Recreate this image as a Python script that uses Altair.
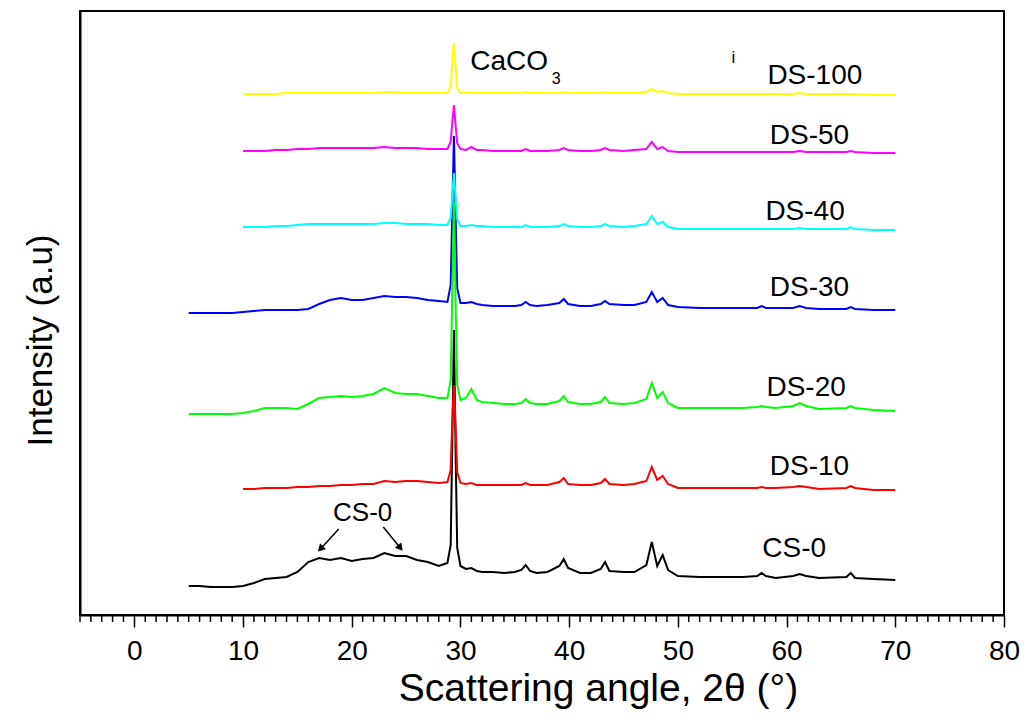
import altair as alt
import pandas as pd

FONT = "Liberation Sans"

# common 2-theta grid (degrees)
angle = [5, 6, 7, 8, 9, 10, 11, 12, 13, 14, 15, 16, 17, 18, 19, 20, 21, 22, 23, 24, 25, 26, 27, 28,
         28.8, 29.1, 29.25, 29.4, 29.55, 29.7, 30.0,
         30.5, 31.0, 31.5, 32, 33, 34, 35,
         35.6, 36.0, 36.4, 37, 38,
         39.1, 39.5, 39.9, 41, 42,
         42.9, 43.3, 43.7, 45, 46,
         47.1, 47.6, 48.1, 48.6, 49.1, 50,
         52, 54, 56,
         57.3, 57.7, 58.1, 59,
         60.6, 61.2, 61.8, 63,
         65.5, 65.9, 66.3, 68, 70]

# intensities (a.u., stacked offsets as drawn)
cs0 = [29, 29, 28, 28, 28, 29, 32, 36, 37, 38, 43, 53, 57, 55, 57, 54, 56, 57, 62, 59, 59, 55, 53, 49,
       52, 70, 175, 285, 165, 67, 49,
       46, 47, 44, 43, 43, 42, 43,
       45, 50, 44, 42, 43,
       49, 56, 47, 42, 42,
       46, 53, 44, 43, 43,
       50, 73, 49, 60, 45, 39,
       38, 38, 38,
       39, 42, 39, 37,
       39, 41, 39, 37,
       38, 42, 37, 36, 35]

ds10 = [126, 126, 127, 127, 127, 128, 128, 129, 129, 130, 130, 131, 131, 134, 133, 134, 134, 133, 132,
        133, 145, 195, 230, 190, 143, 132,
        131, 132, 130, 130, 130, 130, 130,
        130, 132, 130, 130, 130,
        133, 137, 131, 130, 130,
        132, 136, 131, 130, 131,
        134, 148, 135, 139, 131, 127,
        127, 127, 127,
        127, 128, 127, 127,
        128, 129, 128, 126,
        127, 129, 127, 125, 125]

ds20 = [201, 201, 201, 201, 201, 202, 204, 207, 207, 207, 206, 211, 217, 218, 219, 218, 219, 221, 227, 222, 221, 221, 219, 217,
        217, 235, 325, 413, 315, 230, 215,
        217, 226, 215, 213, 212, 211, 211,
        212, 216, 212, 211, 211,
        214, 219, 213, 211, 211,
        213, 218, 212, 211, 212,
        216, 232, 217, 223, 212, 207,
        207, 207, 207,
        208, 209, 208, 207,
        209, 212, 209, 206,
        207, 209, 207, 205, 204]

ds30 = [302, 302, 302, 302, 302, 303, 304, 305, 305, 305, 305, 306, 311, 315, 317, 315, 315, 317, 319, 318, 318, 317, 315, 314,
        313, 330, 405, 479, 400, 327, 312,
        312, 313, 311, 310, 309, 309, 309,
        310, 313, 310, 309, 310,
        312, 316, 311, 309, 309,
        311, 314, 311, 310, 310,
        313, 323, 313, 317, 310, 308,
        307, 307, 307,
        307, 309, 307, 307,
        307, 309, 307, 306,
        306, 308, 306, 305, 305]

ds40 = [388, 388, 388, 389, 389, 390, 391, 391, 391, 391, 391, 391, 391, 392, 392, 391, 391, 391, 390,
        390, 397, 420, 442, 417, 396, 389,
        389, 390, 389, 389, 388, 388, 388,
        388, 390, 388, 388, 388,
        389, 391, 389, 388, 388,
        389, 391, 389, 388, 389,
        391, 399, 391, 393, 388, 386,
        386, 386, 386,
        386, 386, 386, 386,
        386, 387, 386, 386,
        386, 388, 386, 385, 385]

ds50 = [464, 464, 464, 465, 465, 466, 466, 467, 467, 467, 467, 467, 467, 468, 467, 467, 467, 466, 466,
        466, 473, 493, 510, 490, 472, 466,
        465, 468, 465, 465, 464, 464, 464,
        464, 466, 464, 464, 464,
        465, 467, 465, 464, 464,
        465, 467, 465, 464, 465,
        466, 473, 466, 468, 464, 463,
        463, 463, 463,
        463, 463, 463, 463,
        463, 464, 463, 463,
        463, 464, 463, 462, 462]

ds100 = [521, 521, 521, 521, 522, 522, 522, 522, 522, 522, 522, 522, 522, 523, 523, 522, 522, 522, 522,
         522, 529, 553, 572, 550, 527, 522,
         522, 523, 522, 522, 522, 522, 522,
         522, 523, 522, 522, 522,
         522, 523, 522, 522, 522,
         522, 523, 522, 522, 522,
         523, 526, 523, 524, 522, 521,
         521, 521, 521,
         521, 521, 521, 521,
         521, 522, 521, 521,
         521, 521, 521, 520, 520]

series_names = ["CS-0", "DS-10", "DS-30", "DS-20", "DS-40", "DS-50", "DS-100"]
series_vals = [cs0, ds10, ds30, ds20, ds40, ds50, ds100]
series_colors = ["#000000", "#ff0000", "#0000ff", "#00ff00", "#00ffff", "#ff00ff", "#ffff00"]

# series labels
label_text = ["DS-100", "DS-50", "DS-40", "DS-30", "DS-20", "DS-10", "CS-0"]
label_x = [62.6, 62.1, 61.7, 62.1, 61.8, 62.1, 60.7]
label_y = [539, 479, 403, 327, 227, 148, 66]

# x ticks
major_ticks = list(range(0, 81, 10))
minor_ticks = [v for v in range(-5, 81) if v % 10 != 0]

# annotations
arrow_x = [18.8, 22.9]
arrow_y = [86, 88]
arrow_x2 = [17.2, 24.4]
arrow_y2 = [67, 68]
arrow_angle = [224, 140]

xscale = alt.Scale(domain=[-5, 80], nice=False, zero=False)
yscale = alt.Scale(domain=[0, 604], nice=False, zero=False)

xaxis = alt.Axis(
    values=major_ticks, tickSize=12,
    labelOverlap=False, labelFlush=False,
    title="Scattering angle, 2θ (°)", titleX=518,
    grid=False, domainColor="black", domainWidth=2,
    tickColor="black", tickWidth=1.5,
    labelFont=FONT, labelFontSize=28, labelColor="black", labelPadding=10,
    titleFont=FONT, titleFontSize=39, titleFontWeight="normal", titleColor="black", titlePadding=4,
)
yaxis = alt.Axis(
    ticks=False, labels=False, grid=False, domainColor="black", domainWidth=2,
    title="Intensity (a.u)", titleFont=FONT, titleFontSize=35, titleFontWeight="normal",
    titleColor="black", titlePadding=22, titleY=329,
)


def X(field):
    return alt.X(field, scale=xscale, axis=xaxis)


def Y(field):
    return alt.Y(field, scale=yscale, axis=yaxis)


layers = []
for name, vals, color in zip(series_names, series_vals, series_colors):
    df = pd.DataFrame({"angle": angle[-len(vals):], "intensity": vals})
    layers.append(
        alt.Chart(df).mark_line(color=color, strokeWidth=2).encode(x=X("angle:Q"), y=Y("intensity:Q"))
    )

lab_df = pd.DataFrame({"x": label_x, "y": label_y, "t": label_text})
layers.append(
    alt.Chart(lab_df).mark_text(font=FONT, fontSize=28, color="black", align="center", baseline="middle").encode(
        x=X("x:Q"), y=Y("y:Q"), text="t:N")
)

ann_x = [30.9, 38.4, 55.1, 21.0]
ann_y = [553, 536, 557, 102]
ann_t = ["CaCO", "3", "i", "CS-0"]
ann_s = [28, 16, 17, 26]
ann_a = ["left", "left", "center", "center"]
for i in range(len(ann_t)):
    d = pd.DataFrame({"x": [ann_x[i]], "y": [ann_y[i]], "t": [ann_t[i]]})
    layers.append(
        alt.Chart(d).mark_text(font=FONT, fontSize=ann_s[i], color="black",
                               align=ann_a[i], baseline="middle").encode(
            x=X("x:Q"), y=Y("y:Q"), text="t:N")
    )

arr_df = pd.DataFrame({"x": arrow_x, "y": arrow_y, "x2": arrow_x2, "y2": arrow_y2, "ang": arrow_angle})
layers.append(
    alt.Chart(arr_df).mark_rule(color="black", strokeWidth=1.5).encode(
        x=X("x:Q"), y=Y("y:Q"), x2="x2:Q", y2="y2:Q")
)
layers.append(
    alt.Chart(arr_df).mark_point(shape="triangle", filled=True, color="black", size=70, opacity=1).encode(
        x=X("x2:Q"), y=Y("y2:Q"), angle=alt.Angle("ang:Q", scale=None))
)

minor_df = pd.DataFrame({"v": minor_ticks})
layers.append(
    alt.Chart(minor_df).mark_rule(color="black", strokeWidth=1.5).encode(
        x=X("v:Q"), y=alt.value(605), y2=alt.value(611))
)

chart = alt.layer(*layers).properties(
    width=924, height=604,
    autosize=alt.AutoSizeParams(type="none"),
    padding={"left": 80, "top": 11, "right": 29, "bottom": 105},
).configure_view(stroke="black", strokeWidth=2)

chart.save("out.html", embed_options={"renderer": "svg", "actions": False})
